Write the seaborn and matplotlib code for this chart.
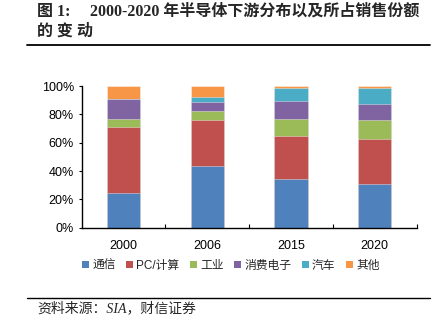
import matplotlib
matplotlib.use("Agg")
import matplotlib.pyplot as plt
import seaborn as sns
import pandas as pd
import numpy as np
from matplotlib.patches import Patch
from matplotlib.lines import Line2D
from matplotlib.ticker import FixedLocator, PercentFormatter

years = ["2000", "2006", "2015", "2020"]
series_names = ["通信", "PC/计算", "工业", "消费电子", "汽车", "其他"]
comm = [24.7, 43.5, 34.2, 30.6]
pc = [46.6, 32.3, 30.5, 32.2]
industry = [5.4, 6.3, 12.0, 13.2]
consumer = [14.3, 6.4, 12.9, 11.5]
auto = [0.0, 3.5, 9.2, 11.3]
other = [9.0, 8.0, 1.2, 1.2]
colors = ["#4F81BD", "#C0504D", "#9BBB59", "#8064A2", "#4BACC6", "#F79646"]
yticks = [0, 20, 40, 60, 80, 100]

sns.set_theme(style="white")
plt.rcParams["font.family"] = ["Liberation Sans", "Noto Sans CJK SC", "DejaVu Sans"]

values = [comm, pc, industry, consumer, auto, other]
df = pd.DataFrame({n: v for n, v in zip(series_names, values)}, index=years)
cum = df.cumsum(axis=1)

fig = plt.figure(figsize=(4.38, 3.26), dpi=100)
ax = fig.add_axes([0.1865, 0.3015, 0.951 - 0.1865, 0.736 - 0.3015])

for name, col in reversed(list(zip(series_names, colors))):
    d = pd.DataFrame({"year": years, "v": cum[name].values})
    sns.barplot(data=d, x="year", y="v", color=col, width=0.4, ax=ax,
                edgecolor=(1, 1, 1, 0.45), linewidth=0.6, saturation=1)

ax.set_xlim(-0.5, 3.5)
ax.set_ylim(0, 100)
ax.set_xlabel("")
ax.set_ylabel("")
ax.yaxis.set_major_locator(FixedLocator(yticks))
ax.yaxis.set_major_formatter(PercentFormatter(decimals=0))
for s in ["top", "right"]:
    ax.spines[s].set_visible(False)
for s in ["left", "bottom"]:
    ax.spines[s].set_color("black")
    ax.spines[s].set_linewidth(1.0)
ax.tick_params(axis="y", which="major", direction="out", length=2.5, width=0.8,
               color="black", labelsize=9, pad=3, left=True)
ax.tick_params(axis="x", which="major", length=0, labelsize=9, pad=9)
ax.xaxis.set_minor_locator(FixedLocator([0.5, 1.5, 2.5, 3.5]))
ax.tick_params(axis="x", which="minor", direction="in", length=3, width=0.8,
               color="black", bottom=True)
for lab in ax.get_xticklabels() + ax.get_yticklabels():
    lab.set_color("black")

handles = [Patch(facecolor=c, edgecolor="none", label=n) for n, c in zip(series_names, colors)]
fig.legend(handles=handles, loc="center", bbox_to_anchor=(231 / 438, 1 - 266 / 326),
           ncol=6, frameon=False, handlelength=0.55, handleheight=0.55,
           handletextpad=0.3, columnspacing=0.9, borderaxespad=0,
           prop={"family": ["Liberation Sans", "Noto Sans CJK SC"], "size": 8.5})

title_font = ["Liberation Serif", "Noto Sans CJK SC"]
fig.text(37 / 438, 1 - 12 / 326, "图 1:", fontsize=11.5, fontweight="bold",
         family=title_font, va="center", ha="left")
fig.text(90 / 438, 1 - 12 / 326, "2000-2020 年半导体下游分布以及所占销售份额",
         fontsize=11.5, fontweight="bold", family=title_font, va="center", ha="left")
fig.text(37 / 438, 1 - 32 / 326, "的 变 动", fontsize=11.5, fontweight="bold",
         family=title_font, va="center", ha="left")
fig.add_artist(Line2D([27 / 438, 430 / 438], [1 - 45 / 326, 1 - 45 / 326],
                      color="black", linewidth=1.3))
fig.add_artist(Line2D([27 / 438, 430 / 438], [1 - 297.5 / 326, 1 - 297.5 / 326],
                      color="black", linewidth=1.0))
fig.text(37 / 438, 1 - 308 / 326, "资料来源：SIA，财信证券", fontsize=10, style="italic",
         family=["Liberation Serif", "Noto Sans CJK SC"], va="center", ha="left")

fig.savefig("out.png", dpi=100)
